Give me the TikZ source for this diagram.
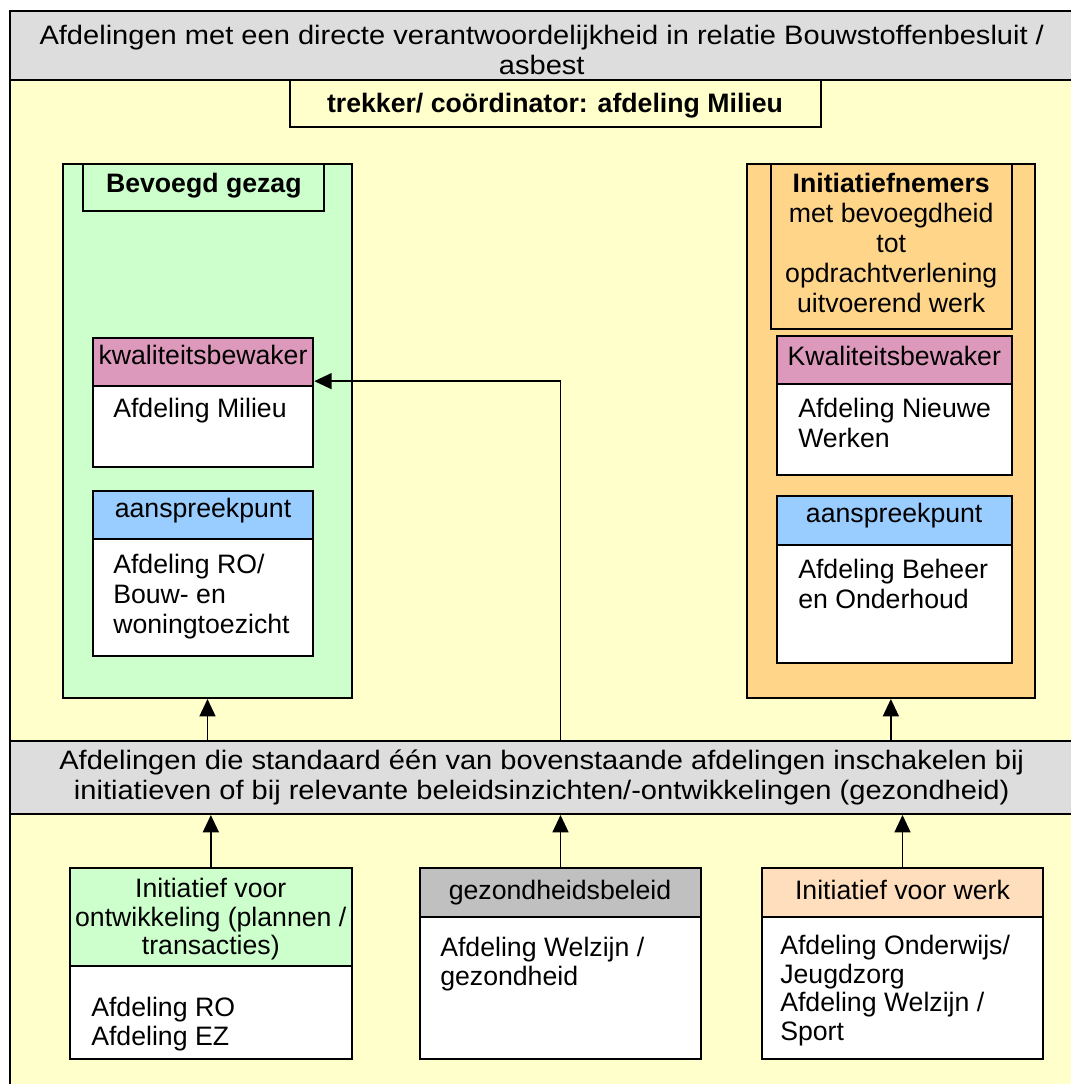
\documentclass[tikz,border=0pt]{standalone}
\usepackage{fontspec}
\setmainfont{Liberation Sans}
\newfontfamily\bandfont[FakeStretch=1.09]{Liberation Sans}
\usetikzlibrary{fit,calc,arrows.meta}
\definecolor{kop}{RGB}{221,221,221}
\definecolor{achter}{RGB}{255,255,204}
\definecolor{groen}{RGB}{204,255,204}
\definecolor{oranje}{RGB}{255,213,138}
\definecolor{roze}{RGB}{221,153,187}
\definecolor{blauw}{RGB}{153,204,255}
\definecolor{grijs}{RGB}{192,192,192}
\definecolor{perzik}{RGB}{255,222,189}
\newcommand{\vak}[6]{\node[vakstijl, fill=#6, fit={(#2,#3) (#4,#5)}] (#1) {};}
\newcommand{\pijlop}[2]{\draw[pijl] (#1) -- (#2);}
\tikzset{
  vakstijl/.style={draw, line width=1.5pt, inner sep=0pt},
  txt/.style={inner sep=0pt, font=\fontsize{20}{22.5}\selectfont, align=center, anchor=north},
  txtl/.style={txt, align=left, anchor=north west},
  bandtxt/.style={txt, font=\fontsize{20}{22.5}\selectfont\bandfont},
  pijl/.style={line width=1.1pt, -{Triangle[length=13pt,width=12pt]}}
}

\begin{document}
\begin{tikzpicture}[x=0.75pt, y=-0.75pt]
\useasboundingbox (0,0) rectangle (1070,1084);
\vak{kader}{9.5}{10.7}{1074}{1095}{achter}
\vak{kopband}{9.5}{10.7}{1074}{80}{kop}
\vak{trekker}{290}{80}{821}{126.7}{achter}
\vak{band}{9.5}{740.7}{1074}{814}{kop}
    \vak{gezag}{63.3}{163.6}{351.7}{698}{groen}
    \vak{bevoegd}{83.3}{163.6}{324.3}{211.4}{groen}
    \vak{milieu}{92.7}{337.5}{313.3}{466.8}{white}\vak{kwalL}{92.7}{337.5}{313.3}{385.7}{roze}
    \vak{roL}{92.7}{491}{313.3}{656}{white}\vak{aanL}{92.7}{491}{313.3}{538.6}{blauw}
    \vak{initiatief}{746.7}{163.6}{1035}{698}{oranje}
    \vak{nemers}{770.7}{163.6}{1011.7}{328.6}{oranje}
    \vak{werken}{776.7}{336.4}{1011.7}{475}{white}\vak{kwalR}{776.7}{336.4}{1011.7}{383.9}{roze}
    \vak{beheer}{776.7}{496.4}{1011.7}{662.5}{white}\vak{aanR}{776.7}{496.4}{1011.7}{544.6}{blauw}
    \vak{ontw}{70}{868}{351.7}{1059}{white}\vak{ontwkop}{70}{868}{351.7}{966}{groen}
    \vak{gezond}{420}{868}{701}{1059}{white}\vak{gezondkop}{420}{868}{701}{917}{grijs}
    \vak{werk}{762}{868}{1043}{1059}{white}\vak{werkkop}{762}{868}{1043}{917}{perzik}
\pijlop{gezag.south |- band.north}{gezag.south}\pijlop{initiatief.south |- band.north}{initiatief.south}
\pijlop{ontw.north}{ontw.north |- band.south}\pijlop{gezond.north}{gezond.north |- band.south}\pijlop{werk.north}{werk.north |- band.south}
\coordinate (milieuin) at ($(milieu.north east)!0.34!(milieu.south east)$);
\draw[pijl] (gezond.north |- band.north) |- (milieuin);
\node[bandtxt] (t-kop) at (541.75,25) {Afdelingen met een directe verantwoordelijkheid in relatie Bouwstoffenbesluit /\\asbest};
\node[txt] (t-trekker) at (555,93) {\textbf{trekker/ coördinator: afdeling Milieu}};
\node[txt] (t-bevoegd) at (203.8,173) {\textbf{Bevoegd gezag}};
\node[txt] (t-kwalL) at (203,345) {kwaliteitsbewaker};
\node[txtl] (t-milieu) at (113,398) {Afdeling Milieu};
\node[txt] (t-aanL) at (203,498) {aanspreekpunt};
\node[txtl] (t-roL) at (113,553.6) {Afdeling RO/\\Bouw- en\\woningtoezicht};
\node[txt] (t-nemers) at (891.2,173) {\textbf{Initiatiefnemers}\\met bevoegdheid\\tot\\opdrachtverlening\\uitvoerend werk};
\node[txt] (t-kwalR) at (894.2,345.7) {Kwaliteitsbewaker};
\node[txtl] (t-werken) at (798,398) {Afdeling Nieuwe\\Werken};
\node[txt] (t-aanR) at (894.2,503) {aanspreekpunt};
\node[txtl] (t-beheer) at (798,559) {Afdeling Beheer\\en Onderhoud};
\node[bandtxt] (t-band) at (541.75,750) {Afdelingen die standaard één van bovenstaande afdelingen inschakelen bij\\initiatieven of bij relevante beleidsinzichten/-ontwikkelingen (gezondheid)};
\node[txt, font=\fontsize{20}{21.5}\selectfont] (t-ontwkop) at (210.8,878) {Initiatief voor\\ontwikkeling (plannen /\\transacties)};
\node[txtl, font=\fontsize{20}{21.5}\selectfont] (t-ontw) at (91,997) {Afdeling RO\\Afdeling EZ};
\node[txt] (t-gezondkop) at (560,880) {gezondheidsbeleid};
\node[txtl, font=\fontsize{20}{21.5}\selectfont] (t-gezond) at (440,937) {Afdeling Welzijn /\\gezondheid};
\node[txt] (t-werkkop) at (902.5,880) {Initiatief voor werk};
\node[txtl, font=\fontsize{20}{21.5}\selectfont] (t-werk) at (780,935) {Afdeling Onderwijs/\\Jeugdzorg\\Afdeling Welzijn /\\Sport};
\end{tikzpicture}
\end{document}
